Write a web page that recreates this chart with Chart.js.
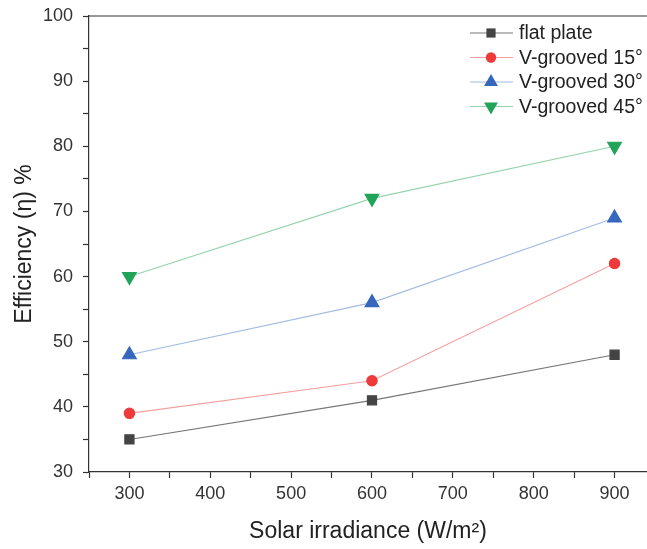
<!DOCTYPE html>
<html>
<head>
<meta charset="utf-8">
<script src="https://cdn.jsdelivr.net/npm/chart.js@4.4.1/dist/chart.umd.min.js"></script>
<style>
  html, body { margin: 0; padding: 0; background: #fff; overflow: hidden; }
  #wrap { width: 656px; height: 549px; position: relative; }
  canvas { display: block; }
</style>
</head>
<body>
<div id="wrap"><canvas id="effChart"></canvas></div>
<script>
const irradiance = [300, 600, 900];
const flatPlate = [35, 41, 48];
const vGrooved15 = [39, 44, 62];
const vGrooved30 = [48, 56, 69];
const vGrooved45 = [60, 72, 80];
const seriesLabels = ['flat plate', 'V-grooved 15°', 'V-grooved 30°', 'V-grooved 45°'];
const xTickValues = [250, 300, 350, 400, 450, 500, 550, 600, 650, 700, 750, 800, 850, 900];

const FONT = "'Liberation Sans', Arial, sans-serif";

function toPoints(values) {
    return irradiance.map((x, i) => ({ x: x, y: values[i] }));
}

// legend drawn inside the plot, line + marker like the original
const insideLegend = {
    id: 'insideLegend',
    afterDraw(chart) {
        const ctx = chart.ctx;
        ctx.save();
        chart.data.datasets.forEach((ds, i) => {
            const y = 33 + i * 24.5;
            ctx.strokeStyle = ds.borderColor;
            ctx.lineWidth = 1.2;
            ctx.beginPath();
            ctx.moveTo(470, y);
            ctx.lineTo(513, y);
            ctx.stroke();
            ctx.fillStyle = ds.pointBackgroundColor;
            ctx.strokeStyle = ds.pointBackgroundColor;
            Chart.helpers.drawPoint(ctx, {
                pointStyle: ds.pointStyle,
                radius: ds.pointRadius,
                rotation: ds.rotation || 0,
                borderWidth: 0
            }, 491, y);
            ctx.fillStyle = '#222';
            ctx.font = '19.5px ' + FONT;
            ctx.textBaseline = 'middle';
            ctx.textAlign = 'left';
            ctx.fillText(ds.label, 519, y + 1);
        });
        ctx.restore();
    }
};

// top frame line
const topFrame = {
    id: 'topFrame',
    afterDraw(chart) {
        const a = chart.chartArea;
        const ctx = chart.ctx;
        ctx.save();
        ctx.strokeStyle = '#333';
        ctx.lineWidth = 1.2;
        ctx.beginPath();
        ctx.moveTo(a.left, a.top);
        ctx.lineTo(a.right, a.top);
        ctx.stroke();
        ctx.restore();
    }
};

const ctx = document.getElementById('effChart').getContext('2d');
const chart = new Chart(ctx, {
    type: 'line',
    data: {
        datasets: [
            {
                label: seriesLabels[0],
                data: toPoints(flatPlate),
                borderColor: '#767676',
                pointBackgroundColor: '#444444',
                pointBorderColor: '#444444',
                pointStyle: 'rect',
                pointRadius: 6.5,
                borderWidth: 1.1
            },
            {
                label: seriesLabels[1],
                data: toPoints(vGrooved15),
                borderColor: '#f5a0a0',
                pointBackgroundColor: '#ee3a3a',
                pointBorderColor: '#ee3a3a',
                pointStyle: 'circle',
                pointRadius: 5.2,
                borderWidth: 1.1
            },
            {
                label: seriesLabels[2],
                data: toPoints(vGrooved30),
                borderColor: '#a3bce4',
                pointBackgroundColor: '#3766bd',
                pointBorderColor: '#3766bd',
                pointStyle: 'triangle',
                pointRadius: 8,
                borderWidth: 1.1
            },
            {
                label: seriesLabels[3],
                data: toPoints(vGrooved45),
                borderColor: '#95d4ae',
                pointBackgroundColor: '#22a35a',
                pointBorderColor: '#22a35a',
                pointStyle: 'triangle',
                rotation: 180,
                pointRadius: 8,
                borderWidth: 1.1
            }
        ]
    },
    options: {
        responsive: true,
        maintainAspectRatio: false,
        animation: false,
        layout: { padding: { top: 16, right: 0, bottom: 0, left: 0 } },
        plugins: {
            legend: { display: false },
            tooltip: { enabled: false }
        },
        elements: {
            point: { borderWidth: 0 }
        },
        scales: {
            x: {
                type: 'linear',
                min: 250,
                max: 940,
                afterBuildTicks: (scale) => {
                    scale.ticks = xTickValues.map(v => ({ value: v }));
                },
                afterFit: (scale) => {
                    scale.height = 77;
                    scale.paddingRight = 0;
                    scale.paddingLeft = 0;
                },
                ticks: {
                    stepSize: 50,
                    padding: 5,
                    color: '#333',
                    font: { family: FONT, size: 18 },
                    maxRotation: 0,
                    autoSkip: false,
                    callback: (v) => (v % 100 === 0 ? v : '')
                },
                grid: {
                    drawOnChartArea: false,
                    tickLength: 6,
                    tickColor: '#333',
                    tickWidth: 1.2
                },
                border: { color: '#333', width: 1.2 },
                title: {
                    display: true,
                    text: 'Solar irradiance (W/m²)',
                    color: '#222',
                    font: { family: FONT, size: 23 },
                    padding: { top: 0, bottom: 4 }
                }
            },
            y: {
                min: 30,
                max: 100,
                afterFit: (scale) => {
                    scale.width = 89;
                    scale.paddingTop = 0;
                    scale.paddingBottom = 0;
                },
                ticks: {
                    stepSize: 5,
                    padding: 10,
                    color: '#333',
                    font: { family: FONT, size: 18 },
                    autoSkip: false,
                    callback: (v) => (v % 10 === 0 ? v : '')
                },
                grid: {
                    drawOnChartArea: false,
                    tickLength: 6,
                    tickColor: '#333',
                    tickWidth: 1.2
                },
                border: { color: '#333', width: 1.2 },
                title: {
                    display: true,
                    text: 'Efficiency (η) %',
                    color: '#222',
                    font: { family: FONT, size: 23 },
                    padding: { top: 11, bottom: 0 }
                }
            }
        }
    },
    plugins: [insideLegend, topFrame]
});
</script>
</body>
</html>
